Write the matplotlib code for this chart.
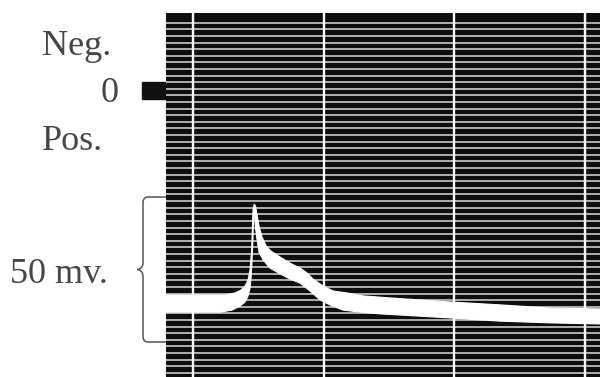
import matplotlib
matplotlib.use("Agg")
import matplotlib.pyplot as plt
import numpy as np
from matplotlib.path import Path
from matplotlib.patches import PathPatch, Rectangle
from matplotlib.transforms import blended_transform_factory

# ---- data ----
# time axis in arbitrary units (vertical time marks every 10 units)
time_marks = [0, 10, 20, 30]
# potential in mV (positive downward, as on the record)
zero_level = 0
scale_top_mv = 36.9
scale_bottom_mv = 86.9
scale_label = "50 mv."

# upper edge of the bright trace
upper_t = [-2.2, 2.45, 3.21, 3.67, 3.98, 4.21, 4.36, 4.48, 4.55, 4.59, 4.67,
           4.78, 4.90, 5.05, 5.28, 5.59, 5.97, 6.66, 7.42, 8.19, 8.72, 9.18,
           9.95, 10.71, 11.78, 13.01, 15.07, 19.66, 23.49, 27.31, 31.3]
upper_mv = [70.7, 70.7, 70.0, 69.0, 67.6, 65.5, 62.1, 55.2, 46.6, 41.4, 39.3,
            40.0, 43.1, 46.9, 50.7, 53.8, 55.6, 57.6, 59.7, 61.4, 63.1, 65.2,
            67.6, 69.3, 70.0, 71.0, 71.7, 73.1, 74.1, 75.2, 75.5]
# lower edge of the bright trace
lower_t = [-2.2, 2.07, 2.98, 3.60, 3.98, 4.21, 4.36, 4.44, 4.51, 4.58, 4.63,
           4.68, 4.78, 4.90, 5.05, 5.36, 5.89, 6.66, 7.42, 8.19, 8.95, 9.72,
           10.48, 11.48, 12.78, 14.31, 19.66, 23.49, 27.31, 31.3]
lower_mv = [76.6, 76.6, 75.9, 74.5, 73.1, 71.0, 68.3, 64.8, 59.3, 51.7, 43.1,
            42.1, 47.6, 51.7, 55.9, 58.6, 61.4, 63.4, 65.2, 66.6, 69.3, 72.4,
            74.1, 75.9, 76.6, 77.2, 78.6, 79.7, 80.3, 80.7]

labels = ["Neg.", "0", "Pos."]

# ---- figure ----
W, H = 600, 377
fig = plt.figure(figsize=(W / 100, H / 100), dpi=100)
fig.patch.set_facecolor("white")

bg = fig.add_axes([0, 0, 1, 1])
bg.set_xlim(0, W)
bg.set_ylim(H, 0)
bg.set_axis_off()

ax = fig.add_axes([166 / W, 0, 434 / W, 364 / H])
ax.set_xlim(-2.07, 31.14)
ax.set_ylim(98.97, -26.55)
ax.set_facecolor("#0e0e0e")
ax.set_xticks([])
ax.set_yticks([])
for s in ax.spines.values():
    s.set_visible(False)

# horizontal raster lines
for yv in np.linspace(-23.17, 97.52, 54):
    ax.axhline(yv, color="#c4c4c4", lw=1.25, zorder=1)

# trace
poly_t = np.r_[upper_t, lower_t[::-1]]
poly_v = np.r_[upper_mv, lower_mv[::-1]]
ax.fill(poly_t, poly_v, color="white", lw=0.8, ec="white", zorder=3)

# vertical time marks
for t in time_marks:
    ax.axvline(t, color="white", lw=1.7, zorder=4)

# zero marker and 50 mV brace (x in figure pixels, y in mV)
trans = blended_transform_factory(bg.transData, ax.transData)
bg.add_patch(Rectangle((142, zero_level - 2.8), 24, 5.9, transform=trans,
                       color="#111111", clip_on=False, zorder=5))

mid = (scale_top_mv + scale_bottom_mv) / 2
r = 2.0
verts = [
    (166, scale_top_mv), (148, scale_top_mv),
    (143, scale_top_mv), (143, scale_top_mv + r),
    (143, mid - 2.4),
    (143, mid - 0.3), (137.5, mid),
    (143, mid + 0.3), (143, mid + 2.4),
    (143, scale_bottom_mv - r),
    (143, scale_bottom_mv), (148, scale_bottom_mv),
    (166, scale_bottom_mv),
]
codes = [Path.MOVETO, Path.LINETO,
         Path.CURVE3, Path.CURVE3,
         Path.LINETO,
         Path.CURVE3, Path.CURVE3,
         Path.CURVE3, Path.CURVE3,
         Path.LINETO,
         Path.CURVE3, Path.CURVE3,
         Path.LINETO]
bg.add_patch(PathPatch(Path(verts, codes), transform=trans, fill=False,
                       ec="#555555", lw=1.1, clip_on=False, zorder=5))

font = dict(family=["Liberation Serif", "DejaVu Serif"], size=26,
            color="#464646")
bg.text(42, 55, labels[0], ha="left", va="baseline", **font)
bg.text(119, 102, labels[1], ha="right", va="baseline", **font)
bg.text(42, 150, labels[2], ha="left", va="baseline", **font)
bg.text(10, 283, scale_label, ha="left", va="baseline", **font)

fig.savefig("out.png", dpi=100)
